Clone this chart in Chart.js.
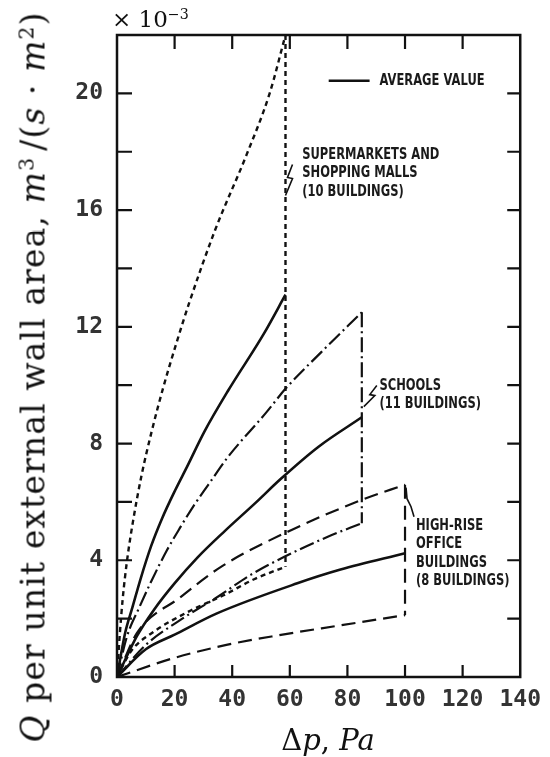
<!DOCTYPE html>
<html>
<head>
<meta charset="utf-8">
<script src="https://cdn.jsdelivr.net/npm/chart.js@4.4.1/dist/chart.umd.min.js"></script>
<style>
  html, body { margin: 0; padding: 0; background: #fff; }
  #wrap { position: relative; width: 550px; height: 757px; overflow: hidden; }
  #chart { position: absolute; left: 0; top: 0; }
  .math { position: absolute; font-family: "DejaVu Serif", "Liberation Serif", serif; color: #111; white-space: nowrap; line-height: 1; }
  .math i { font-style: italic; }
  .math sup { font-size: 0.62em; vertical-align: 0.55em; line-height: 0; }
  #mult { left: 112px; top: 8px; font-size: 23px; }
  #xtitle { left: 328px; top: 726px; font-size: 29px; transform: translateX(-50%); }
  #ytitle { left: 33px; top: 377px; font-size: 33px; letter-spacing: 1.1px; transform: translate(-50%, -50%) rotate(-90deg); }
  .sp { display: inline-block; width: 0.18em; }
</style>
</head>
<body>
<div id="wrap">
  <canvas id="chart" width="550" height="757"></canvas>
  <div id="mult" class="math">× 10<sup>−3</sup></div>
  <div id="xtitle" class="math">Δ<i>p</i>, <i>Pa</i></div>
  <div id="ytitle" class="math"><i>Q</i> per unit external wall area, <i>m</i><sup>3</sup><span class="sp"></span>/(<i>s</i> · <i>m</i><sup>2</sup>)</div>
</div>
<script>
// Air leakage per unit external wall area (Q, ×10⁻³ m³/(s·m²)) against pressure difference (Δp, Pa)

// Supermarkets and shopping malls (10 buildings)
const mallUpperDp = [0, 1.0, 2.0, 3.5, 5.5, 8.5, 12, 16, 20.5, 25, 34, 45, 53, 58.5];
const mallUpperQ  = [0, 1.5, 2.7, 4.0, 5.3, 6.9, 8.4, 9.9, 11.4, 12.8, 15.3, 17.9, 20.0, 22.0];
const mallAvgDp   = [0, 2.8, 5.4, 8.3, 11.9, 15.5, 20.2, 24.3, 30.3, 38.5, 50.9, 58.5];
const mallAvgQ    = [0, 1.5, 2.4, 3.4, 4.5, 5.4, 6.4, 7.2, 8.4, 9.8, 11.75, 13.1];
const mallLowerDp = [0, 5, 12, 25, 37, 47.6, 58.5];
const mallLowerQ  = [0, 0.9, 1.5, 2.25, 2.8, 3.35, 3.78];

// Schools (11 buildings)
const schoolUpperDp = [0, 3.5, 7.8, 12, 17.1, 21.8, 26.5, 31.8, 38.2, 51.7, 58.7, 71.1, 85];
const schoolUpperQ  = [0, 1.4, 2.4, 3.3, 4.3, 5.1, 5.85, 6.6, 7.5, 9.05, 9.9, 11.15, 12.5];
const schoolAvgDp   = [0, 6.9, 12.8, 19.9, 28, 37.4, 47.9, 57, 70.1, 85];
const schoolAvgQ    = [0, 1.4, 2.3, 3.2, 4.1, 5.0, 5.95, 6.8, 7.9, 8.9];
const schoolLowerDp = [0, 10, 21.9, 35, 46.4, 58.1, 72.8, 85];
const schoolLowerQ  = [0, 1.1, 1.95, 2.75, 3.5, 4.12, 4.79, 5.27];

// High-rise office buildings (8 buildings)
const officeUpperDp = [0, 6.9, 21.8, 36.5, 59.3, 85, 100];
const officeUpperQ  = [0, 1.5, 2.72, 3.8, 4.98, 6.07, 6.59];
const officeAvgDp   = [0, 10, 20, 34.7, 62.6, 77.6, 100];
const officeAvgQ    = [0, 0.95, 1.45, 2.18, 3.21, 3.68, 4.24];
const officeLowerDp = [0, 19.4, 38, 56.1, 77.6, 100];
const officeLowerQ  = [0, 0.64, 1.1, 1.43, 1.77, 2.12];

// Axis ticks
const xTickValues = [0, 20, 40, 60, 80, 100, 120, 140];
const yTickLabels = [0, 4, 8, 12, 16, 20];
const yMinorStep = 2;

const INK = '#111';
const pts = (dp, q) => dp.map((v, i) => ({ x: v, y: q[i] }));
const last = a => a[a.length - 1];

function curve(dp, q, dash, width) {
  return {
    data: pts(dp, q), showLine: true, fill: false,
    borderColor: INK, borderWidth: width, borderDash: dash,
    pointRadius: 0, tension: 0.4, cubicInterpolationMode: 'monotone'
  };
}
// closing edge of each envelope, from the end of the upper bound to the end of the lower bound
function edge(upDp, upQ, loDp, loQ, dash, width) {
  return {
    data: [{ x: last(upDp), y: last(upQ) }, { x: last(loDp), y: last(loQ) }],
    showLine: true, fill: false, borderColor: INK, borderWidth: width,
    borderDash: dash, pointRadius: 0, tension: 0
  };
}

const mallDash = [5, 4], schoolDash = [15, 4, 2, 4], officeDash = [14, 7];

const datasets = [
  curve(mallUpperDp, mallUpperQ, mallDash, 2.4),
  curve(mallAvgDp, mallAvgQ, [], 2.6),
  curve(mallLowerDp, mallLowerQ, mallDash, 2.4),
  edge(mallUpperDp, mallUpperQ, mallLowerDp, mallLowerQ, mallDash, 2.4),
  curve(schoolUpperDp, schoolUpperQ, schoolDash, 2.2),
  curve(schoolAvgDp, schoolAvgQ, [], 2.6),
  curve(schoolLowerDp, schoolLowerQ, schoolDash, 2.2),
  edge(schoolUpperDp, schoolUpperQ, schoolLowerDp, schoolLowerQ, schoolDash, 2.2),
  curve(officeUpperDp, officeUpperQ, officeDash, 2.2),
  curve(officeAvgDp, officeAvgQ, [], 2.6),
  curve(officeLowerDp, officeLowerQ, officeDash, 2.2),
  edge(officeUpperDp, officeUpperQ, officeLowerDp, officeLowerQ, officeDash, 2.2)
];

// Box round the plot with inward tick marks on all four sides
const framePlugin = {
  id: 'frame',
  afterDatasetsDraw(chart) {
    const { ctx, chartArea: a, scales: { x, y } } = chart;
    ctx.save();
    ctx.strokeStyle = INK;
    ctx.lineWidth = 2.5;
    ctx.strokeRect(a.left, a.top, a.right - a.left, a.bottom - a.top);
    ctx.lineWidth = 2.2;
    ctx.beginPath();
    x.ticks.forEach(t => {
      if (t.value <= x.min || t.value >= x.max) return;
      const px = x.getPixelForValue(t.value);
      ctx.moveTo(px, a.bottom); ctx.lineTo(px, a.bottom - 12);
      ctx.moveTo(px, a.top); ctx.lineTo(px, a.top + 14);
    });
    y.ticks.forEach(t => {
      if (t.value <= y.min || t.value >= y.max) return;
      const py = y.getPixelForValue(t.value);
      ctx.moveTo(a.left, py); ctx.lineTo(a.left + 15, py);
      ctx.moveTo(a.right, py); ctx.lineTo(a.right - 13, py);
    });
    ctx.stroke();
    ctx.restore();
  }
};

// Legend key and the labels of the three building groups
const notesPlugin = {
  id: 'notes',
  afterDatasetsDraw(chart) {
    const { ctx, scales: { x, y } } = chart;
    const X = v => x.getPixelForValue(v), Y = v => y.getPixelForValue(v);
    ctx.save();
    ctx.fillStyle = '#1a1a1a';
    ctx.strokeStyle = INK;
    ctx.font = 'bold 16px "DejaVu Sans", sans-serif';
    ctx.textBaseline = 'middle';
    ctx.textAlign = 'left';
    const lines = (list, px, py, gap) => list.forEach((s, i) => {
      ctx.save();
      ctx.translate(px, py + i * gap);
      ctx.scale(0.72, 1);
      ctx.fillText(s, 0, 0);
      ctx.restore();
    });

    // legend
    const ly = Y(20.43);
    ctx.lineWidth = 2.6;
    ctx.beginPath(); ctx.moveTo(X(73.5), ly); ctx.lineTo(X(87.7), ly); ctx.stroke();
    lines(['AVERAGE VALUE'], X(91.1), ly, 0);

    // supermarkets
    lines(['SUPERMARKETS AND', 'SHOPPING MALLS', '(10 BUILDINGS)'], X(64.3), Y(17.89), 18.3);
    // schools
    lines(['SCHOOLS', '(11 BUILDINGS)'], X(91.1), Y(9.97), 18.2);
    // office buildings
    lines(['HIGH-RISE', 'OFFICE', 'BUILDINGS', '(8 BUILDINGS)'], X(103.8), Y(5.18), 18.5);

    // leader strokes tying each label to its envelope edge
    ctx.lineWidth = 1.6;
    const leader = (ox, oy, offs) => {
      ctx.beginPath();
      offs.forEach(([dx, dy], i) => i ? ctx.lineTo(ox + dx, oy + dy) : ctx.moveTo(ox + dx, oy + dy));
      ctx.stroke();
    };
    leader(X(last(mallUpperDp)), Y(16.5), [[7, -31], [2, -18], [7, -17], [0, 0]]);
    leader(X(last(schoolUpperDp)), Y(9.3), [[15, -20], [8, -11], [13, -10], [2, 1]]);
    leader(X(last(officeUpperDp)), Y(last(officeUpperQ)), [[1, 3], [2, 14], [6, 22], [9, 32]]);
    ctx.restore();
  }
};

const tickFont = { family: '"DejaVu Sans Mono", monospace', size: 23, weight: 'bold' };

new Chart(document.getElementById('chart'), {
  type: 'scatter',
  data: { datasets },
  options: {
    responsive: false,
    animation: false,
    events: [],
    layout: { padding: { top: 35, right: 29, left: 0, bottom: 0 } },
    plugins: { legend: { display: false }, tooltip: { enabled: false } },
    scales: {
      x: {
        type: 'linear', min: xTickValues[0], max: last(xTickValues),
        afterBuildTicks: s => { s.ticks = xTickValues.map(v => ({ value: v })); },
        ticks: { font: tickFont, color: '#333', padding: 9, maxRotation: 0, autoSkip: false },
        grid: { display: false, drawTicks: false },
        border: { display: false },
        afterFit: s => { s.height = 80; }
      },
      y: {
        type: 'linear', min: 0, max: 22,
        ticks: {
          stepSize: yMinorStep, font: tickFont, color: '#333', padding: 14, autoSkip: false,
          callback: v => yTickLabels.includes(v) ? String(v) : ''
        },
        grid: { display: false, drawTicks: false },
        border: { display: false },
        afterFit: s => { s.width = 117; }
      }
    }
  },
  plugins: [framePlugin, notesPlugin]
});
</script>
</body>
</html>
